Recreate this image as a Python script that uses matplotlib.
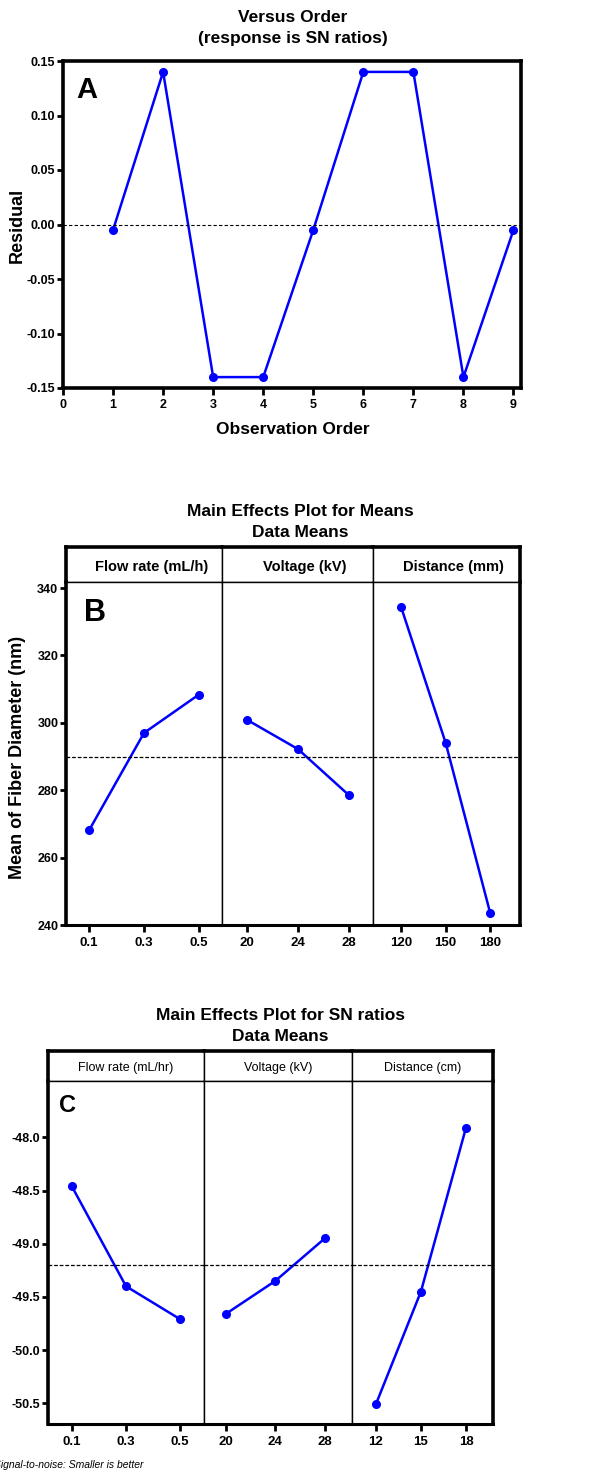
import matplotlib
matplotlib.use('Agg')
import matplotlib.pyplot as plt

plt.rcParams['font.family'] = ['Liberation Sans', 'DejaVu Sans']
plt.rcParams['font.weight'] = 'bold'

W, H = 599, 1472

# panel A data
order = [1, 2, 3, 4, 5, 6, 7, 8, 9]
residuals = [-0.005, 0.14, -0.14, -0.14, -0.005, 0.14, 0.14, -0.14, -0.005]

# panel B data (means)
factors_b = ['Flow rate (mL/h)', 'Voltage (kV)', 'Distance (mm)']
levels_b = [['0.1', '0.3', '0.5'], ['20', '24', '28'], ['120', '150', '180']]
means_b = [[268.1, 297.0, 308.4], [300.9, 292.2, 278.5], [334.4, 294.1, 243.6]]
grand_mean_b = 290.0

# panel C data (SN ratios)
factors_c = ['Flow rate (mL/hr)', 'Voltage (kV)', 'Distance (cm)']
levels_c = [['0.1', '0.3', '0.5'], ['20', '24', '28'], ['12', '15', '18']]
sn_c = [[-48.46, -49.40, -49.71], [-49.66, -49.35, -48.95], [-50.51, -49.45, -47.91]]
grand_mean_c = -49.20

BLUE = '#0000ff'
THICK = 2.6
THIN = 1.0


def rect(x0, y0, x1, y1):
    # pixel box (top-left origin) -> figure fraction
    return [x0 / W, 1 - y1 / H, (x1 - x0) / W, (y1 - y0) / H]


fig = plt.figure(figsize=(W / 100, H / 100), dpi=100)

# ---------------- panel A
ax = fig.add_axes(rect(63, 61, 521, 388))
ax.plot(order, residuals, color=BLUE, lw=1.8, marker='o', ms=5.5)
ax.axhline(0, color='black', lw=0.8, ls=(0, (3, 2)))
ax.set_xlim(0, 9.15)
ax.set_ylim(-0.15, 0.15)
ax.set_xticks(range(0, 10))
ax.set_yticks([-0.15, -0.10, -0.05, 0.0, 0.05, 0.10, 0.15])
ax.set_yticklabels(['-0.15', '-0.10', '-0.05', '0.00', '0.05', '0.10', '0.15'])
for s in ax.spines.values():
    s.set_linewidth(THICK)
ax.tick_params(axis='x', direction='out', length=5, width=2, labelsize=9, pad=3)
ax.tick_params(axis='y', direction='out', length=4, width=2, labelsize=9, pad=1.5)
ax.text(0.052, 0.91, 'A', transform=ax.transAxes, fontsize=21,
        ha='center', va='center')
fig.text(293 / W, 1 - 28.5 / H, 'Versus Order\n(response is SN ratios)',
         ha='center', va='center', fontsize=12.5, linespacing=1.5)
fig.text(293 / W, 1 - 430 / H, 'Observation Order', ha='center',
         va='center', fontsize=12.5)
fig.text(17 / W, 1 - 225 / H, 'Residual', ha='center', va='center',
         rotation=90, fontsize=13)


def main_effects(cols, top, mid, bottom, factors, levels, values, grand,
                 xlims, ylim, yticks, yticklabels, header_kw, letter, letter_pos,
                 letter_size):
    first = None
    for i in range(3):
        x0, x1 = cols[i], cols[i + 1]
        hax = fig.add_axes(rect(x0, top, x1, mid))
        dax = fig.add_axes(rect(x0, mid, x1, bottom))
        hax.set_xticks([])
        hax.set_yticks([])
        hax.text(header_kw['xpos'], 0.42, factors[i], transform=hax.transAxes,
                 ha='center', va='center', fontsize=header_kw['size'],
                 fontweight=header_kw['weight'])
        dax.plot(range(3), values[i], color=BLUE, lw=1.8, marker='o', ms=5.5)
        dax.axhline(grand, color='black', lw=0.9, ls=(0, (3, 1.5)))
        dax.set_xlim(*xlims[i])
        dax.set_ylim(*ylim)
        dax.set_xticks(range(3))
        dax.set_xticklabels(levels[i])
        dax.tick_params(axis='x', direction='out', length=5, width=2,
                        labelsize=9.5, pad=3.5)
        left_w = THICK if i == 0 else THIN
        right_w = THICK if i == 2 else THIN
        for a in (hax, dax):
            a.spines['left'].set_linewidth(left_w)
            a.spines['right'].set_linewidth(right_w)
        hax.spines['top'].set_linewidth(THICK)
        hax.spines['bottom'].set_linewidth(THIN)
        dax.spines['top'].set_linewidth(THIN)
        dax.spines['bottom'].set_linewidth(2.2)
        if i == 0:
            first = dax
            dax.set_yticks(yticks)
            dax.set_yticklabels(yticklabels)
            dax.tick_params(axis='y', direction='out', length=4, width=2,
                            labelsize=9, pad=1.5)
        else:
            dax.set_yticks([])
    first.text(letter_pos[0], letter_pos[1], letter, transform=first.transAxes,
               fontsize=letter_size, ha='center', va='center')


# ---------------- panel B
main_effects([66, 222, 373, 520], 547, 582, 925, factors_b, levels_b, means_b,
             grand_mean_b,
             [(-0.42, 2.42), (-0.49, 2.47), (-0.63, 2.67)],
             (240, 341.8), [240, 260, 280, 300, 320, 340],
             ['240', '260', '280', '300', '320', '340'],
             {'xpos': 0.55, 'size': 10.5, 'weight': 'bold'}, 'B', (0.186, 0.91), 22)
fig.text(300 / W, 1 - 521.5 / H, 'Main Effects Plot for Means\nData Means',
         ha='center', va='center', fontsize=12.5, linespacing=1.5)
fig.text(18 / W, 1 - 757 / H, 'Mean of Fiber Diameter (nm)', ha='center',
         va='center', rotation=90, fontsize=13)

# ---------------- panel C
main_effects([48, 204, 352, 493], 1051, 1081, 1424, factors_c, levels_c, sn_c,
             grand_mean_c,
             [(-0.44, 2.44), (-0.44, 2.55), (-0.53, 2.6)],
             (-50.695, -47.47), [-50.5, -50.0, -49.5, -49.0, -48.5, -48.0],
             ['-50.5', '-50.0', '-49.5', '-49.0', '-48.5', '-48.0'],
             {'xpos': 0.5, 'size': 9, 'weight': 'normal'}, 'C', (0.128, 0.93), 17)
fig.text(280 / W, 1 - 1026 / H, 'Main Effects Plot for SN ratios\nData Means',
         ha='center', va='center', fontsize=12.5, linespacing=1.5)
# the reference crops the first letter of this footnote at the page edge
fig.text(-6 / W, 1 - 1465 / H, 'Signal-to-noise: Smaller is better',
         ha='left', va='center', fontsize=7.5, style='italic', fontweight='normal')

fig.savefig('out.png', dpi=100)
